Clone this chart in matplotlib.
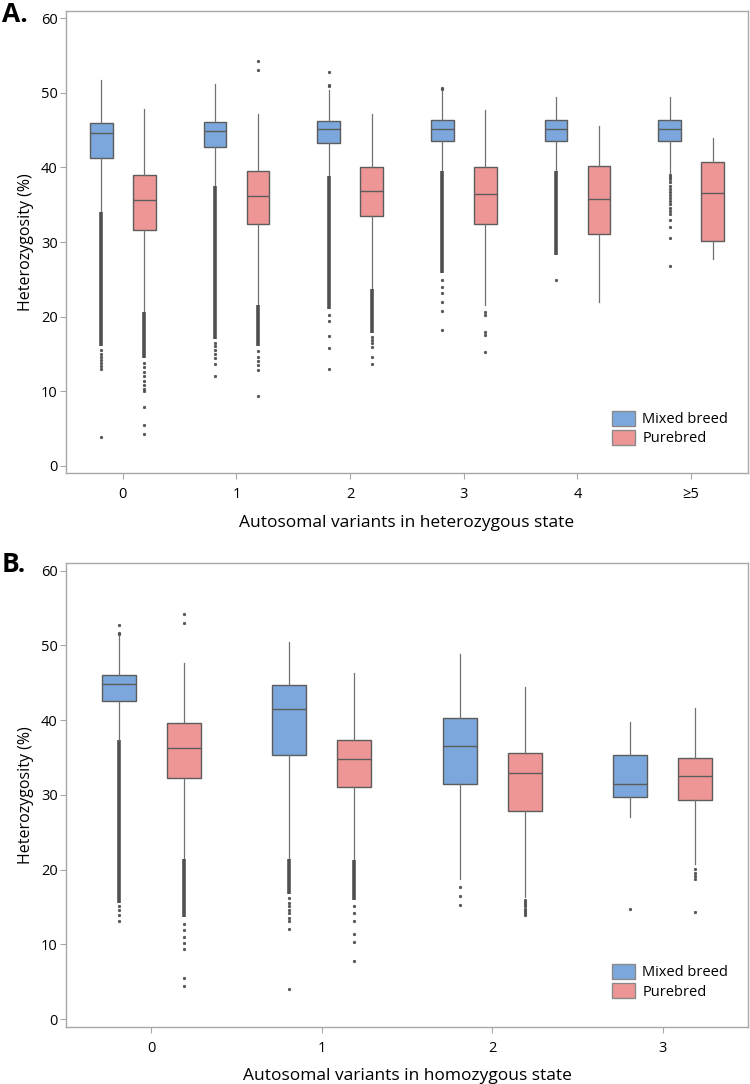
import matplotlib
matplotlib.use("Agg")
import matplotlib.pyplot as plt
from matplotlib.patches import Patch

plt.rcParams['font.family'] = ['Open Sans', 'DejaVu Sans']

# ------------------------------------------------------------------
# Dados: (whislo, q1, mediana, q3, whishi)
# ------------------------------------------------------------------
A_grupos = ["0", "1", "2", "3", "4", "≥5"]
A_mixed = [(34.1, 41.2, 44.6, 46.0, 51.7),
           (37.6, 42.7, 44.9, 46.1, 51.2),
           (39.0, 43.3, 45.1, 46.2, 50.4),
           (39.6, 43.6, 45.2, 46.3, 50.2),
           (39.6, 43.6, 45.2, 46.3, 49.4),
           (39.3, 43.5, 45.2, 46.3, 49.4)]
A_pure = [(20.8, 31.6, 35.6, 39.0, 47.8),
          (21.7, 32.4, 36.2, 39.5, 47.1),
          (23.8, 33.5, 36.8, 40.0, 47.1),
          (21.6, 32.4, 36.5, 40.1, 47.7),
          (21.9, 31.1, 35.7, 40.2, 45.6),
          (27.7, 30.1, 36.6, 40.7, 44.0)]
# faixas densas de outliers (lo, hi)
A_mixed_faixa = [(16.0, 34.0), (17.0, 37.5), (21.0, 38.9),
                 (25.8, 39.5), (28.2, 39.5), None]
A_pure_faixa = [(14.5, 20.6), (16.0, 21.6), (17.8, 23.7), None, None, None]
A_mixed_out = [[15.5, 15.0, 14.6, 14.2, 13.8, 13.4, 13.0, 3.9],
               [16.5, 16.0, 15.5, 15.0, 14.4, 13.6, 12.0],
               [50.9, 51.1, 52.8, 20.2, 19.4, 17.4, 15.8, 13.0],
               [50.5, 50.7, 24.9, 24.0, 23.1, 22.0, 20.7, 18.2],
               [24.9],
               [39.0, 38.7, 38.4, 38.0, 37.5, 37.1, 36.7, 36.3, 35.9, 35.5,
                35.1, 34.6, 34.2, 33.8, 32.9, 32.0, 30.5, 26.8]]
A_pure_out = [[13.8, 13.2, 12.6, 12.0, 11.4, 10.8, 10.3, 10.0, 7.9, 5.5, 4.3],
              [54.3, 53.1, 15.4, 14.6, 14.0, 13.5, 12.9, 9.4],
              [17.2, 16.8, 16.4, 15.9, 14.6, 13.7],
              [20.6, 20.2, 18.0, 17.6, 15.3],
              [],
              []]

B_grupos = ["0", "1", "2", "3"]
B_mixed = [(37.4, 42.6, 44.8, 46.0, 51.2),
           (21.5, 35.4, 41.5, 44.7, 50.5),
           (18.7, 31.4, 36.5, 40.3, 48.9),
           (27.1, 29.7, 31.4, 35.4, 39.8)]
B_pure = [(21.5, 32.3, 36.3, 39.6, 47.7),
          (21.4, 31.0, 34.8, 37.4, 46.3),
          (16.3, 27.9, 33.0, 35.6, 44.5),
          (20.7, 29.3, 32.5, 35.0, 41.6)]
B_mixed_faixa = [(15.5, 37.3), (16.8, 21.4), None, None]
B_pure_faixa = [(13.7, 21.4), (15.9, 21.3), None, None]
B_mixed_out = [[51.5, 51.7, 52.7, 15.1, 14.6, 14.0, 13.1],
               [16.2, 15.6, 15.1, 14.6, 14.2, 13.6, 13.1, 12.0, 4.0],
               [17.7, 16.5, 15.3],
               [14.7]]
B_pure_out = [[54.2, 53.0, 12.8, 11.9, 11.0, 10.2, 9.4, 5.5, 4.4],
              [15.1, 14.2, 13.1, 11.4, 10.3, 7.8],
              [16.0, 15.7, 15.4, 15.1, 14.8, 14.5, 14.2, 14.0],
              [20.1, 19.6, 19.2, 18.8, 14.4]]

COR_MIX = "#7ba7dc"
COR_PURE = "#ee9695"
BORDA = "#5c5c5c"
EIXO = "#a8a8a8"


def monta_stats(resumo, outliers):
    stats = []
    for (lo, q1, med, q3, hi), fl in zip(resumo, outliers):
        stats.append(dict(whislo=lo, q1=q1, med=med, q3=q3, whishi=hi, fliers=fl))
    return stats


def painel(ax, grupos, mixed, pure, mixed_faixa, pure_faixa, mixed_out, pure_out,
           xlabel):
    n = len(grupos)
    off, larg = 0.19, 0.2
    for dados, faixas, outs, cor, sinal in [(mixed, mixed_faixa, mixed_out, COR_MIX, -1),
                                           (pure, pure_faixa, pure_out, COR_PURE, 1)]:
        pos = [i + sinal * off for i in range(n)]
        for p, fx in zip(pos, faixas):
            if fx is not None:
                ax.vlines(p, fx[0], fx[1], color="#505050", lw=2.6, zorder=2)
        ax.bxp(monta_stats(dados, outs), positions=pos, widths=larg,
               patch_artist=True, showcaps=False,
               boxprops=dict(facecolor=cor, edgecolor=BORDA, linewidth=1.0),
               medianprops=dict(color=BORDA, linewidth=1.0),
               whiskerprops=dict(color="#707070", linewidth=0.9),
               flierprops=dict(marker="o", markersize=1.8, markerfacecolor="#505050",
                               markeredgecolor="#505050", markeredgewidth=0.5,
                               linestyle="none"))

    ax.set_xlim(-0.5, n - 0.5)
    ax.set_ylim(-1, 61)
    ax.set_xticks(range(n))
    ax.set_xticklabels(grupos)
    ax.set_yticks(range(0, 61, 10))
    ax.tick_params(axis="both", labelsize=10.5, color=EIXO, length=4)
    ax.tick_params(axis="x", pad=6)
    ax.tick_params(axis="y", pad=2)
    for s in ax.spines.values():
        s.set_color(EIXO)
        s.set_linewidth(1.0)
    ax.set_ylabel("Heterozygosity (%)", fontsize=11.5, labelpad=5)
    ax.set_xlabel(xlabel, fontsize=12.5, labelpad=9)

    handles = [Patch(facecolor=COR_MIX, edgecolor="#8a8a8a", label="Mixed breed"),
               Patch(facecolor=COR_PURE, edgecolor="#8a8a8a", label="Purebred")]
    ax.legend(handles=handles, loc="lower right", bbox_to_anchor=(0.99, 0.03),
              frameon=False, fontsize=10.5, handlelength=1.6, handleheight=1.2,
              handletextpad=0.5, labelspacing=0.2)


fig = plt.figure(figsize=(7.5, 10.84), dpi=100)
axA = fig.add_axes([0.088, 0.5634, 0.9093, 0.4267])
axB = fig.add_axes([0.088, 0.0529, 0.9093, 0.4275])

painel(axA, A_grupos, A_mixed, A_pure, A_mixed_faixa, A_pure_faixa,
       A_mixed_out, A_pure_out, "Autosomal variants in heterozygous state")
painel(axB, B_grupos, B_mixed, B_pure, B_mixed_faixa, B_pure_faixa,
       B_mixed_out, B_pure_out, "Autosomal variants in homozygous state")

fig.text(0.002, 0.999, "A.", fontsize=19, fontweight="bold", va="top", ha="left")
fig.text(0.002, 0.492, "B.", fontsize=19, fontweight="bold", va="top", ha="left")

fig.savefig("out.png", dpi=100)
